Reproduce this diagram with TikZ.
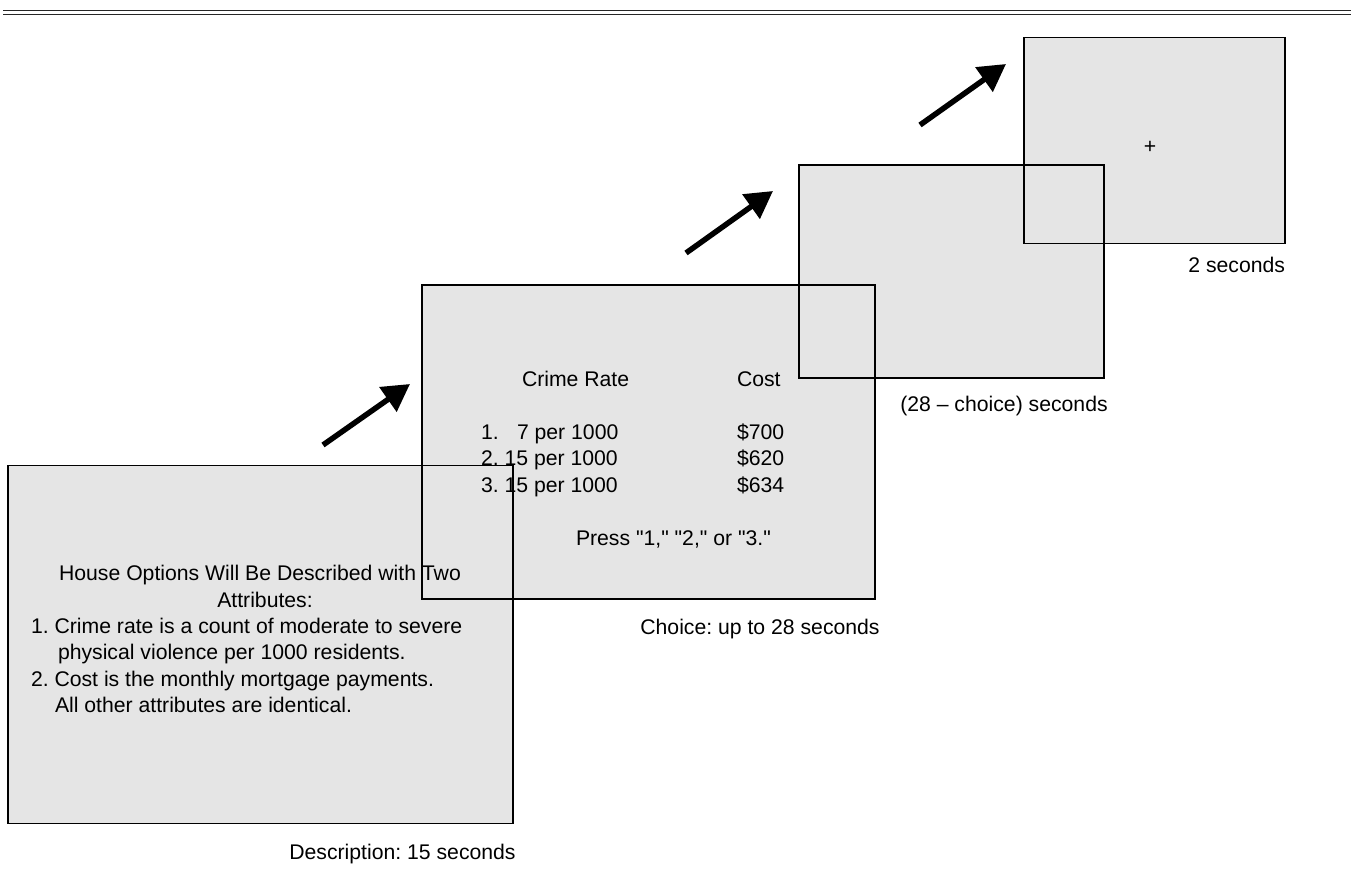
\documentclass[tikz,border=0pt]{standalone}
\usepackage{fontspec}
\setmainfont{Liberation Sans}[Ligatures=TeXOff]
\usetikzlibrary{arrows.meta}
\begin{document}
\frenchspacing
\begin{tikzpicture}[x=1pt,y=-1pt,
  screenfill/.style={fill=black!10,draw=none,inner sep=0pt,outer sep=0pt},
  screenline/.style={draw=black,line width=1.4pt},
  txt/.style={inner sep=0pt,outer sep=0pt,font=\fontsize{21.2}{26.3}\selectfont},
  steparrow/.style={line width=5.5pt,-{Triangle[length=27pt,width=29pt]}},
  rule/.style={line width=1.2pt,black!85}]
\useasboundingbox (0,0) rectangle (1351,890);
% top double rule
\coordinate (r1a) at (3,10.5); \coordinate (r1b) at (1351,10.5);
\coordinate (r2a) at (3,14.8); \coordinate (r2b) at (1351,14.8);
\draw[rule] (r1a) -- (r1b);
\draw[rule] (r2a) -- (r2b);
% screen fills
\node[screenfill,minimum width=505pt,minimum height=358pt] (s1) at (260.5,644.5) {};
\node[screenfill,minimum width=453pt,minimum height=314pt] (s2) at (648.5,442) {};
\node[screenfill,minimum width=305pt,minimum height=213pt] (s3) at (951.5,271.5) {};
\node[screenfill,minimum width=261pt,minimum height=206pt] (s4) at (1154.5,140.5) {};
% screen borders
\draw[screenline] (s1.north west) rectangle (s1.south east);
\draw[screenline] (s2.north west) rectangle (s2.south east);
\draw[screenline] (s3.north west) rectangle (s3.south east);
\draw[screenline] (s4.north west) rectangle (s4.south east);
% arrows
\coordinate (a1s) at (323,445); \coordinate (a1e) at (410,384);
\coordinate (a2s) at (686,253); \coordinate (a2e) at (773,191);
\coordinate (a3s) at (920,125); \coordinate (a3e) at (1006,64);
\draw[steparrow] (a1s) -- (a1e);
\draw[steparrow] (a2s) -- (a2e);
\draw[steparrow] (a3s) -- (a3e);
% description screen text
\node[txt,anchor=base] (d1) at (260,580.7) {House Options Will Be Described with Two};
\node[txt,anchor=base] (d2) at (265,607) {Attributes:};
\node[txt,anchor=base west] (d3) at (31,633.3) {1. Crime rate is a count of moderate to severe};
\node[txt,anchor=base west] (d4) at (58,659.6) {physical violence per 1000 residents.};
\node[txt,anchor=base west] (d5) at (31,686) {2. Cost is the monthly mortgage payments.};
\node[txt,anchor=base west] (d6) at (55,712.3) {All other attributes are identical.};
% choice screen text
\node[txt,anchor=base west] (c1) at (522,386) {Crime Rate};
\node[txt,anchor=base west] (c2) at (737,386) {Cost};
\node[txt,anchor=base west] (c3) at (481,439) {1.};
\node[txt,anchor=base west] (c3b) at (517,439) {7 per 1000};
\node[txt,anchor=base west] (c4) at (737,439) {\$700};
\node[txt,anchor=base west] (c5) at (481,465.5) {2. 15 per 1000};
\node[txt,anchor=base west] (c6) at (737,465.5) {\$620};
\node[txt,anchor=base west] (c7) at (481,492) {3. 15 per 1000};
\node[txt,anchor=base west] (c8) at (737,492) {\$634};
\node[txt,anchor=base west] (c9) at (576,545) {Press "1," "2," or "3."};
% fixation
\node[txt,anchor=base] (fx) at (1150,154) {+};
% labels
\node[txt,anchor=base] (l1) at (402.5,859) {Description: 15 seconds};
\node[txt,anchor=base] (l2) at (760,634) {Choice: up to 28 seconds};
\node[txt,anchor=base] (l3) at (1004,411) {(28 – choice) seconds};
\node[txt,anchor=base east] (l4) at (1285,273) {2 seconds};
\end{tikzpicture}
\end{document}
